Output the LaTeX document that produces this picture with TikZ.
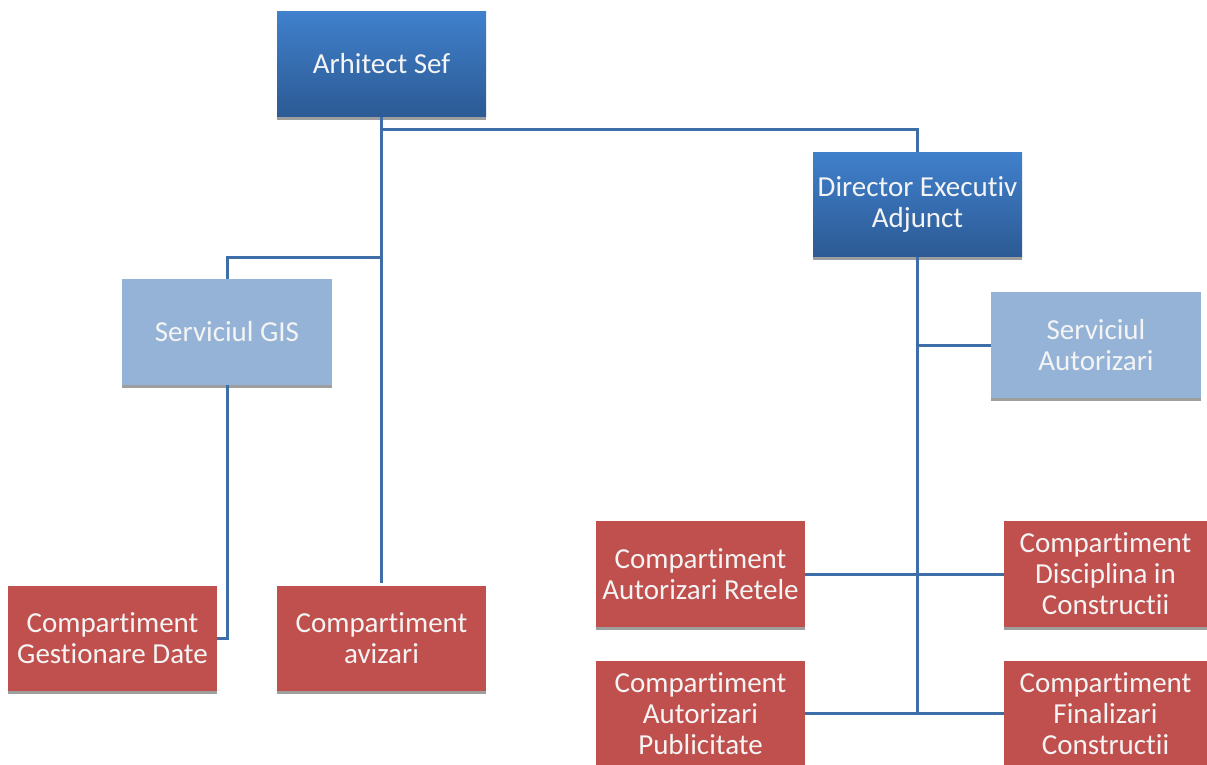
\documentclass[tikz,border=0pt]{standalone}
\usepackage{fontspec}
\setmainfont{Carlito}[Ligatures=NoCommon]
\definecolor{darkbluetop}{RGB}{64,128,204}
\definecolor{darkbluebot}{RGB}{44,90,148}
\definecolor{lightblue}{RGB}{149,179,215}
\definecolor{boxred}{RGB}{192,80,77}
\definecolor{conn}{RGB}{62,110,168}
\definecolor{txt}{RGB}{244,244,244}
\begin{document}
\begin{tikzpicture}[x=1pt,y=-1pt,
  base/.style={rectangle, inner sep=0pt, align=center, text=txt,
    font=\fontsize{29}{31}\selectfont, minimum width=209pt, minimum height=105pt},
  topbox/.style={base, top color=darkbluetop, bottom color=darkbluebot},
  midbox/.style={base, fill=lightblue},
  redbox/.style={base, fill=boxred},
  shadowline/.style={draw=black!38, line width=3pt},
  connector/.style={draw=conn, line width=3pt}]
\useasboundingbox (0,0) rectangle (1207,764);
\node[topbox] (AS) at (381.5,64) {Arhitect Sef};
\node[topbox] (DEA) at (917.5,204.5) {Director Executiv\\Adjunct};
\node[midbox, minimum width=210pt, minimum height=106pt] (GIS) at (227,332) {Serviciul GIS};
\node[midbox, minimum width=210pt, minimum height=106pt] (SA) at (1096,345) {Serviciul\\Autorizari};
\node[redbox] (CGD) at (112.5,638.5) {Compartiment\\Gestionare Date};
\node[redbox] (CA) at (381.5,638.5) {Compartiment\\avizari};
\node[redbox, minimum height=106pt] (CAR) at (700.5,574) {Compartiment\\Autorizari Retele};
\node[redbox, minimum width=203pt, minimum height=106pt] (CDC) at (1105.5,574) {Compartiment\\Disciplina in\\Constructii};
\node[redbox, minimum height=106pt] (CAP) at (700.5,714) {Compartiment\\Autorizari\\Publicitate};
\node[redbox, minimum width=203pt, minimum height=106pt] (CFC) at (1105.5,714) {Compartiment\\Finalizari\\Constructii};
\foreach \n in {AS,DEA,GIS,SA,CGD,CA,CAR,CDC}
  \draw[shadowline] ([yshift=-1.5pt]\n.south west) -- ([yshift=-1.5pt]\n.south east);
\coordinate (j1) at (381.5,129);
\coordinate (j2) at (381.5,257);
\coordinate (j3) at (917.5,713);
\draw[connector] (AS.south) -- ([yshift=3pt]CA.north);
\draw[connector] (j1) -| (DEA.north);
\draw[connector] (j2) -| (GIS.north);
\draw[connector] (GIS.south) |- (CGD.east);
\draw[connector] (DEA.south) -- (j3);
\draw[connector] (DEA.south |- SA.west) -- (SA.west);
\draw[connector] (CAR.east) -- (CDC.west);
\draw[connector] (CAP.east |- j3) -- (CFC.west |- j3);
\end{tikzpicture}
\end{document}
